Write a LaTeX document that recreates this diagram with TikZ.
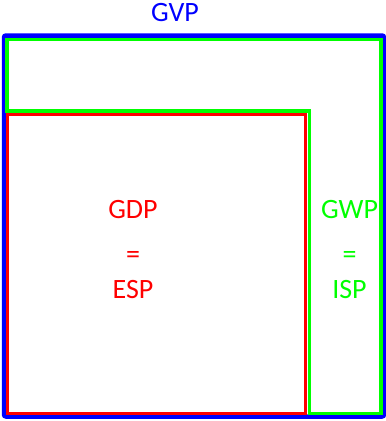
\documentclass[tikz,border=0pt]{standalone}
\usepackage{fontspec}
\setmainfont{Carlito}
\usetikzlibrary{positioning}
\definecolor{gvpblue}{RGB}{0,0,255}
\definecolor{gwpgreen}{RGB}{0,255,0}
\definecolor{gdpred}{RGB}{255,0,0}

\begin{document}
\begin{tikzpicture}[x=1pt, y=-1pt,
    tag/.style={font=\fontsize{28}{32}\selectfont, anchor=base, inner sep=0pt}]
      \useasboundingbox (0,0) rectangle (386,421);

      % --- Positions ---
      \coordinate (gvpNW) at (4,35.5);
      \coordinate (gvpSE) at (384,416.5);
      \coordinate (gdpNW) at (7,114.5);
      \coordinate (gdpSE) at (305,413);

      % --- GVP frame ---
      \draw[gvpblue, line width=4.5pt, rounded corners=2pt] (gvpNW) rectangle (gvpSE);

      % --- GWP frame round the GDP box ---
      \draw[gwpgreen, line width=3.5pt]
        (7,39.5) -- (381,39.5) -- (381,413.5) -- (309.5,413.5)
        -- (309.5,111) -- (7,111) -- cycle;

      % --- GDP box ---
      \draw[gdpred, line width=3pt] (gdpNW) rectangle (gdpSE);

      % --- Labels ---
      \node[tag, gvpblue] (gvp) at (175,21.5) {GVP};

      \node[tag, gdpred] (gdp) at (133,218.5) {GDP};
      \node[tag, gdpred] (gdpeq) at (133,263) {=};
      \node[tag, gdpred] (esp) at (133,298.5) {ESP};

      \node[tag, gwpgreen] (gwp) at (349.5,218.5) {GWP};
      \node[tag, gwpgreen] (gwpeq) at (349.5,263) {=};
      \node[tag, gwpgreen] (isp) at (349.5,298.5) {ISP};
\end{tikzpicture}
\end{document}
